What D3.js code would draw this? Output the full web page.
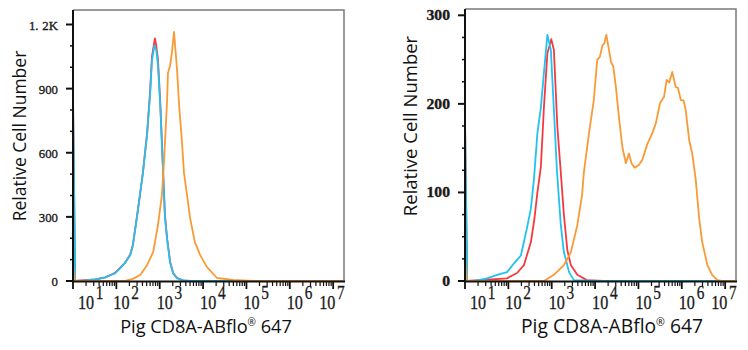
<!DOCTYPE html>
<html>
<head>
<meta charset="utf-8">
<script src="https://cdn.jsdelivr.net/npm/d3@7"></script>
<style>
  html, body { margin: 0; padding: 0; background: #fff; }
  svg { display: block; }
</style>
</head>
<body>
<svg id="chart" width="748" height="350"></svg>
<script>
// Flow cytometry overlays: x = log10 fluorescence, y = cell count per channel.
const decadeExponents = [1, 2, 3, 4, 5, 6, 7];
const xLabel = "Pig CD8A-ABflo";

const leftYTicks = [0, 300, 600, 900, 1200];
const leftYTickLabels = ["0", "300", "600", "900", "1.2K"];
const rightYTicks = [0, 100, 200, 300];
const rightYTickLabels = ["0", "100", "200", "300"];

// [log10 intensity, count]
const leftIsotype = [[1.0,860],[1.05,1],[1.28,4],[1.51,7],[1.74,17],[1.85,26],[1.97,38],[2.08,60],[2.2,85],[2.32,124],[2.38,168],[2.48,309],[2.55,410],[2.61,505],[2.71,692],[2.78,893],[2.82,1048],[2.89,1135],[2.92,1100],[2.96,1034],[3.01,847],[3.08,505],[3.12,309],[3.17,201],[3.24,89],[3.31,37],[3.4,14],[3.54,3],[3.7,1],[4.5,0],[7.25,0]];
const leftBlank = [[1.0,870],[1.05,1],[1.28,3],[1.51,8],[1.74,16],[1.85,27],[1.97,36],[2.08,58],[2.2,86],[2.32,120],[2.38,165],[2.48,305],[2.55,415],[2.61,500],[2.71,690],[2.78,880],[2.82,1030],[2.875,1100],[2.92,1080],[2.96,1010],[3.01,830],[3.08,500],[3.12,300],[3.17,195],[3.24,85],[3.31,35],[3.4,12],[3.54,3],[3.7,1],[4.5,0],[7.25,0]];
const leftStained = [[1.0,75],[1.04,0],[2.2,1],[2.38,10],[2.55,28],[2.71,75],[2.85,136],[2.96,262],[3.05,402],[3.1,560],[3.17,847],[3.19,973],[3.24,1010],[3.28,1066],[3.33,1165],[3.4,987],[3.45,814],[3.51,660],[3.56,505],[3.63,402],[3.7,295],[3.81,182],[3.93,122],[4.09,65],[4.32,14],[4.69,5],[5.15,0],[7.25,0]];

const rightIsotype = [[1.0,180],[1.05,0],[1.97,3],[2.2,9],[2.36,18],[2.52,44],[2.6,70],[2.67,100],[2.75,129],[2.82,196],[2.9,257],[2.99,273],[3.05,261],[3.13,174],[3.21,122],[3.28,75],[3.36,35],[3.44,18],[3.59,7],[3.81,1],[4.2,0],[7.25,0]];
const rightBlank = [[1.0,185],[1.05,0],[1.21,0],[1.51,3],[1.74,7],[1.97,10],[2.13,20],[2.29,29],[2.43,60],[2.52,82],[2.59,115],[2.67,167],[2.75,196],[2.82,235],[2.9,278],[2.98,261],[3.05,193],[3.12,125],[3.21,63],[3.28,33],[3.4,10],[3.51,1],[4.0,0],[7.25,0]];
const rightStained = [[1.0,27],[1.04,0],[2.82,0],[3.05,7],[3.28,18],[3.44,32],[3.59,63],[3.7,97],[3.74,122],[3.86,167],[3.97,204],[4.05,250],[4.11,253],[4.17,266],[4.21,268],[4.26,278],[4.32,261],[4.37,247],[4.42,242],[4.48,219],[4.55,185],[4.63,151],[4.71,133],[4.78,144],[4.84,133],[4.91,128],[5.01,131],[5.09,137],[5.2,154],[5.32,167],[5.4,178],[5.5,201],[5.59,208],[5.65,227],[5.71,224],[5.78,236],[5.86,219],[5.91,218],[5.98,204],[6.04,204],[6.09,193],[6.17,159],[6.24,144],[6.32,115],[6.4,71],[6.47,44],[6.59,18],[6.7,7],[6.82,1],[6.93,0],[7.25,0]];

const COLORS = { isotype: "#f43a40", blank: "#22c2f0", stained: "#f99a36" };

const svg = d3.select("#chart");

function drawPanel(p) {
  const g = svg.append("g");
  const x = d3.scaleLinear().domain([1, 7.25]).range([p.left, p.right]);
  const y = d3.scaleLinear().domain([0, p.yMax]).range([p.bottom, p.yMaxPos]);

  // frame: top/right in grey
  g.append("path")
    .attr("d", `M${p.left},${p.top}H${p.right}V${p.bottom}`)
    .attr("fill", "none").attr("stroke", "#7a7a7a").attr("stroke-width", 1.5);

  const clipId = "clip" + p.id;
  svg.append("clipPath").attr("id", clipId)
    .append("rect").attr("x", p.left).attr("y", p.top)
    .attr("width", p.right - p.left + 1).attr("height", p.bottom - p.top + 1);

  const line = d3.line().x(d => x(d[0])).y(d => y(d[1])).curve(d3.curveLinear);
  const plot = g.append("g").attr("clip-path", `url(#${clipId})`);
  p.series.forEach(s => {
    plot.append("path").datum(s.data)
      .attr("d", line)
      .attr("fill", "none")
      .attr("stroke", s.color)
      .attr("stroke-width", 1.8)
      .attr("stroke-linejoin", "round");
  });

  // y axis
  const minorY = d3.range(0, p.yMax + 0.001, p.yMinorStep).filter(v => !p.yTicks.includes(v));
  g.append("line").attr("x1", p.left).attr("x2", p.left)
    .attr("y1", p.top).attr("y2", p.bottom + 1)
    .attr("stroke", "#111").attr("stroke-width", 2);
  g.selectAll(".ymaj").data(p.yTicks).join("line")
    .attr("x1", p.left - 7).attr("x2", p.left)
    .attr("y1", d => y(d)).attr("y2", d => y(d))
    .attr("stroke", "#111").attr("stroke-width", 2);
  g.selectAll(".ymin").data(minorY).join("line")
    .attr("x1", p.left - 3).attr("x2", p.left)
    .attr("y1", d => y(d)).attr("y2", d => y(d))
    .attr("stroke", "#111").attr("stroke-width", 1.5);
  g.selectAll(".ylab").data(p.yTicks).join("text")
    .attr("transform", d => `translate(${p.left - 15},${y(d) + 5}) scale(${p.yLabelScale},1)`)
    .attr("text-anchor", "end")
    .attr("font-family", "'Liberation Serif', serif")
    .attr("font-size", p.yLabelSize)
    .attr("font-weight", p.yLabelWeight)
    .attr("fill", "#1a1a1a")
    .attr("stroke", "#1a1a1a").attr("stroke-width", 0.35)
    .each(function (d, i) {
      // wide decimal point, as in the instrument's label font
      const parts = p.yLabels[i].split(".");
      const t = d3.select(this);
      t.append("tspan").text(parts[0] + (parts.length > 1 ? "." : ""));
      if (parts.length > 1) t.append("tspan").attr("dx", 4).text(parts[1]);
    });

  // x axis
  g.append("line").attr("x1", p.left - 1).attr("x2", p.right + 1)
    .attr("y1", p.bottom + 0.5).attr("y2", p.bottom + 0.5)
    .attr("stroke", "#111").attr("stroke-width", 2);
  const minorX = [];
  decadeExponents.forEach(k => {
    for (let m = 2; m <= 9; m++) {
      const v = k + Math.log10(m);
      if (v <= 7.25) minorX.push(v);
    }
  });
  g.selectAll(".xmin").data(minorX).join("line")
    .attr("x1", d => x(d)).attr("x2", d => x(d))
    .attr("y1", p.bottom + 1).attr("y2", p.bottom + 5)
    .attr("stroke", "#111").attr("stroke-width", 1.2);
  g.selectAll(".xmaj").data(decadeExponents).join("line")
    .attr("x1", d => x(d)).attr("x2", d => x(d))
    .attr("y1", p.bottom + 1).attr("y2", p.bottom + 8)
    .attr("stroke", "#111").attr("stroke-width", 1.8);

  const sx = 0.85;
  decadeExponents.forEach(k => {
    const t = g.append("text")
      .attr("font-family", "'Liberation Serif', serif")
      .attr("font-size", 19)
      .attr("fill", "#1a1a1a")
      .attr("stroke", "#1a1a1a").attr("stroke-width", 0.3);
    t.append("tspan").text("10");
    t.append("tspan").attr("dx", 2).attr("dy", -10).attr("font-size", 18).text(k);
    const w = t.node().getComputedTextLength() * sx;
    let lx = Math.max(x(k) - 3, p.left + 5);
    if (lx + w > p.right - 1) lx = p.right - 1 - w;
    t.attr("transform", `translate(${lx},${p.bottom + 28}) scale(${sx},1)`);
  });

  // axis titles
  g.append("text")
    .attr("transform", `translate(${p.yTitleX},${p.yTitleY}) rotate(-90)`)
    .attr("text-anchor", "middle")
    .attr("font-family", "'Open Sans', 'Noto Sans', sans-serif")
    .attr("font-size", p.titleSize)
    .attr("fill", "#111")
    .text("Relative Cell Number");

  const xt = g.append("text")
    .attr("x", p.xTitleX).attr("y", 333)
    .attr("text-anchor", "middle")
    .attr("font-family", "'Open Sans', 'Noto Sans', sans-serif")
    .attr("font-size", p.xTitleSize)
    .attr("fill", "#111");
  xt.append("tspan").text(xLabel);
  xt.append("tspan").attr("dy", -7).attr("font-size", p.xTitleSize * 0.55).text("®");
  xt.append("tspan").attr("dy", 7).text(" 647");
}

drawPanel({
  id: "L", left: 73, right: 344, top: 10, bottom: 281,
  yMax: 1200, yMaxPos: 24.5, yTicks: leftYTicks, yLabels: leftYTickLabels, yMinorStep: 100,
  yLabelSize: 13.5, yLabelWeight: "normal", yLabelScale: 0.95,
  yTitleX: 26, yTitleY: 136, xTitleX: 206, titleSize: 17.5, xTitleSize: 18.2,
  series: [
    { data: leftIsotype, color: COLORS.isotype },
    { data: leftBlank, color: COLORS.blank },
    { data: leftStained, color: COLORS.stained }
  ]
});

drawPanel({
  id: "R", left: 465, right: 736, top: 9, bottom: 281,
  yMax: 300, yMaxPos: 15.3, yTicks: rightYTicks, yLabels: rightYTickLabels, yMinorStep: 25,
  yLabelSize: 14, yLabelWeight: "bold", yLabelScale: 1.12,
  yTitleX: 417, yTitleY: 126, xTitleX: 612, titleSize: 18.5, xTitleSize: 19.3,
  series: [
    { data: rightIsotype, color: COLORS.isotype },
    { data: rightBlank, color: COLORS.blank },
    { data: rightStained, color: COLORS.stained }
  ]
});
</script>
</body>
</html>
